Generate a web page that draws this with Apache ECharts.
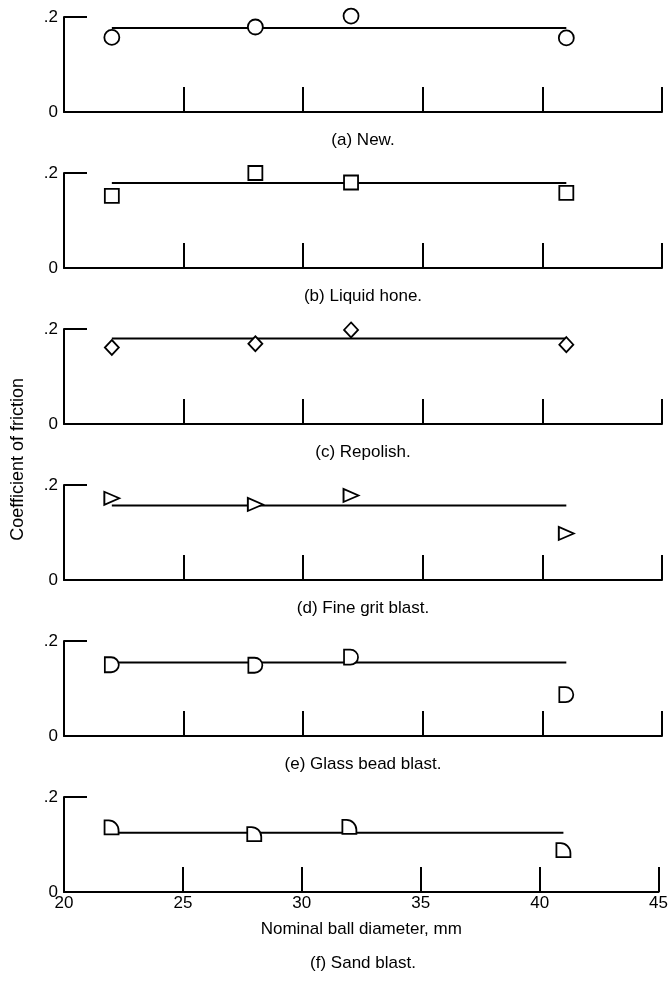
<!DOCTYPE html>
<html>
<head>
<meta charset="utf-8">
<script src="https://cdn.jsdelivr.net/npm/echarts@6/dist/echarts.min.js"></script>
<style>
  html, body { margin: 0; background: #fff; }
  #chart { width: 671px; height: 987px; }
</style>
</head>
<body>
<div id="chart"></div>
<script>
// ball diameters, mm (same for every panel)
const diameters = [22, 28, 32, 41];
const fitEnds = [22, 41];

// coefficient of friction
const newVals = [0.157, 0.179, 0.202, 0.156];
const liquidHoneVals = [0.152, 0.2, 0.18, 0.158];
const repolishVals = [0.161, 0.169, 0.198, 0.167];
const fineGritVals = [0.172, 0.159, 0.178, 0.098];
const glassBeadVals = [0.15, 0.149, 0.166, 0.087];
const sandBlastVals = [0.136, 0.122, 0.137, 0.088];

// fitted (mean) line level for each panel
const fitVals = [0.177, 0.179, 0.18, 0.157, 0.155, 0.125];

const captions = [
  "(a) New.", "(b) Liquid hone.", "(c) Repolish.",
  "(d) Fine grit blast.", "(e) Glass bead blast.", "(f) Sand blast."
];
const allVals = [newVals, liquidHoneVals, repolishVals, fineGritVals, glassBeadVals, sandBlastVals];

const FONT = "'Liberation Sans', Arial, sans-serif";
const FS = 17;
const symbols = [
  { symbol: "circle", size: [15, 15], rotate: 0 },
  { symbol: "rect", size: [14, 14], rotate: 0 },
  { symbol: "diamond", size: [14, 15], rotate: 0 },
  { symbol: "triangle", size: [13, 15], rotate: -90 },
  { symbol: "path://M0,0 L4,0 A5,5 0 0 1 4,10 L0,10 Z", size: [14, 15], rotate: 0 },
  { symbol: "path://M0,0 L3,0 A7,7 0 0 1 10,7 L10,10 L0,10 Z", size: [14, 14], rotate: 0 }
];

const TOP0 = 17, STEP = 156, H = 95;
const grids = [], xAxes = [], yAxes = [], series = [], titles = [];

allVals.forEach((vals, i) => {
  const last = i === allVals.length - 1;
  const top = TOP0 + STEP * i;
  grids.push({ left: 64, width: 598, top: top, height: H });
  xAxes.push({
    type: "value", gridIndex: i, min: 20, max: 45, interval: 5,
    axisLine: { show: true, lineStyle: { color: "#000", width: 2 } },
    axisTick: { show: true, inside: true, length: 25, lineStyle: { color: "#000", width: 2 } },
    axisLabel: { show: last, color: "#000", fontSize: FS, fontFamily: FONT, margin: 3 },
    splitLine: { show: false },
    name: last ? "Nominal ball diameter, mm" : "",
    nameLocation: "middle", nameGap: 29,
    nameTextStyle: { color: "#000", fontSize: FS, fontFamily: FONT }
  });
  yAxes.push({
    type: "value", gridIndex: i, min: 0, max: 0.2, interval: 0.2,
    axisLine: { show: true, lineStyle: { color: "#000", width: 2 } },
    axisTick: { show: true, inside: true, length: 23, lineStyle: { color: "#000", width: 2 } },
    axisLabel: {
      color: "#000", fontSize: FS, fontFamily: FONT, margin: 6,
      formatter: v => (v === 0 ? "0" : ".2")
    },
    splitLine: { show: false }
  });
  series.push({
    type: "line", xAxisIndex: i, yAxisIndex: i, symbol: "none", silent: true,
    data: fitEnds.map(x => [x, fitVals[i]]),
    lineStyle: { color: "#000", width: 2 }, z: 2
  });
  series.push({
    type: "scatter", xAxisIndex: i, yAxisIndex: i, clip: false,
    symbol: symbols[i].symbol, symbolSize: symbols[i].size, symbolRotate: symbols[i].rotate,
    data: diameters.map((d, k) => [d, vals[k]]),
    itemStyle: { color: "#fff", borderColor: "#000", borderWidth: 1.8, opacity: 1 },
    z: 3
  });
  titles.push({
    text: captions[i], left: 358, textAlign: "center",
    top: last ? top + H + 58 : top + H + 15,
    textStyle: { color: "#000", fontSize: FS, fontWeight: "normal", fontFamily: FONT }
  });
});

const chart = echarts.init(document.getElementById("chart"), null, { renderer: "canvas" });
chart.setOption({
  backgroundColor: "#fff",
  animation: false,
  title: titles,
  grid: grids,
  xAxis: xAxes,
  yAxis: yAxes,
  series: series,
  graphic: [{
    type: "text", left: 9, top: 378,
    rotation: Math.PI / 2,
    style: { text: "Coefficient of friction", fill: "#000", fontSize: 18, fontFamily: FONT }
  }]
});
</script>
</body>
</html>
